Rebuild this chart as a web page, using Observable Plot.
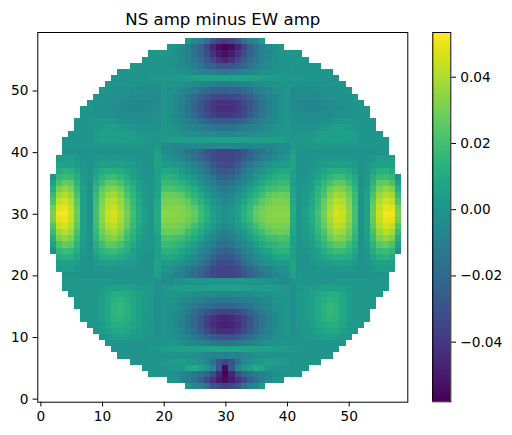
<!DOCTYPE html>
<html><head><meta charset="utf-8">
<script src="https://cdn.jsdelivr.net/npm/d3@7"></script>
<script src="https://cdn.jsdelivr.net/npm/@observablehq/plot@0.6"></script>
<style>
html,body{margin:0;padding:0;background:#fff}
#c{position:relative;width:512px;height:435px;overflow:hidden}
#c svg{position:absolute;left:0;top:0;background:transparent}
</style></head><body><div id="c"></div>
<script>
const title = "NS amp minus EW amp";
const axisTicks = [0,10,20,30,40,50];
const barTicks = [-0.04,-0.02,0,0.02,0.04];
const colorDomain = [-0.058,0.0535];
// Values in units of 0.001, one list per row from y=58 down to y=2.
// Each list runs from the circle's left edge to the centre column 30; the right half mirrors it.
const topRows = [
[2,-6,-10,-16,-28,-35,-38],
[1,-2,-5,-10,-16,-24,-35,-46,-54,-57],
[0,1,0,0,-3,-6,-9,-15,-22,-32,-42,-50,-54],
[0,0,0,0,-1,-3,-5,-8,-13,-19,-26,-34,-42,-46],
[0,0,0,0,0,-1,-2,-3,-5,-7,-11,-15,-21,-24,-28,-30],
[0,0,0,0,0,0,0,0,0,-1,-2,-3,-5,-7,-9,-11,-12,-13],
[0,0,0,0,0,0,1,1,1,2,2,3,4,5,6,7,7,7,7],
[0,0,0,0,-1,-1,-1,-1,-1,0,0,-1,-2,-3,-5,-7,-9,-10,-11,-12],
[0,-1,-1,-1,-2,-3,-3,-4,-4,-4,1,-2,-3,-6,-9,-12,-16,-20,-22,-24,-25],
[0,-1,-1,-2,-2,-3,-4,-5,-5,-5,-4,0,-3,-6,-9,-13,-19,-24,-29,-32,-34,-35],
[0,-1,-1,-2,-3,-4,-5,-6,-6,-6,-6,-4,0,-3,-6,-10,-15,-21,-28,-34,-39,-41,-42],
[0,0,-1,-2,-3,-4,-5,-6,-6,-6,-6,-5,-4,0,-3,-6,-10,-16,-22,-29,-35,-40,-43,-44],
[0,0,-1,-1,-2,-3,-4,-5,-5,-5,-5,-4,-3,0,-3,-6,-9,-14,-20,-26,-32,-37,-39,-40],
[0,0,0,1,1,1,0,-2,-3,-3,-3,-3,-3,-2,1,-2,-5,-7,-11,-14,-19,-22,-25,-27,-28],
[0,0,0,2,3,5,5,3,1,0,-1,-1,-1,-1,1,0,-2,-4,-6,-8,-10,-12,-14,-15,-16],
[0,0,0,0,3,5,5,5,5,4,3,1,0,0,0,2,1,0,-1,-2,-3,-4,-5,-5,-6,-7],
[0,0,0,0,0,3,4,5,5,5,4,4,3,2,1,0,3,4,4,4,4,4,4,5,5,5,5],
[0,0,0,0,0,1,1,1,1,1,1,1,0,0,-1,1,-4,-5,-6,-6,-6,-6,-6,-6,-6,-6,-6],
[0,-1,-1,-1,-1,-1,-1,-1,-1,-1,-1,-1,-1,-2,-2,6,-3,-5,-8,-11,-15,-19,-23,-29,-33,-35,-35],
[3,4,4,1,-1,-2,0,1,1,1,0,0,0,-1,-1,-2,7,0,-2,-5,-8,-12,-16,-21,-26,-33,-35,-35],
[5,6,6,3,0,-2,2,4,5,5,4,3,2,0,-1,-1,7,3,3,1,-2,-5,-8,-13,-19,-27,-32,-33],
[10,13,12,8,1,-2,5,10,12,12,10,7,4,1,-1,-1,5,9,9,7,3,-1,-5,-9,-14,-22,-27,-29],
[-1,16,18,17,11,2,-2,9,14,17,18,15,11,6,2,0,-1,5,13,13,11,8,4,0,-6,-10,-15,-21,-23],
[5,22,27,25,14,3,-2,12,19,25,26,21,15,10,4,1,0,5,17,17,15,13,9,4,-1,-6,-11,-15,-18],
[11,31,35,31,18,4,-2,15,26,31,33,28,19,13,6,2,0,6,21,22,20,18,14,10,4,-1,-6,-11,-13],
[17,37,41,36,21,5,-2,17,29,36,38,32,22,15,8,3,0,8,27,28,27,25,19,14,9,3,-2,-6,-9],
[22,43,46,40,25,5,-2,19,32,40,42,36,27,17,9,3,0,9,30,31,31,29,26,19,13,8,2,-3,-6],
[29,48,50,43,27,6,-2,20,34,43,45,38,29,19,10,4,0,10,33,33,33,32,29,25,17,11,4,0,-3],
[31,51,52,44,28,6,-2,20,35,44,47,40,30,20,11,5,0,10,34,34,34,33,31,27,19,13,6,2,-1]
];
const bottomRows = [
[29,48,50,43,27,6,-2,20,34,43,45,38,29,19,10,4,0,10,33,33,33,32,29,25,17,11,4,0,-3],
[22,43,46,40,25,5,-2,19,32,40,42,36,27,17,9,3,0,9,30,31,31,29,26,19,13,8,2,-3,-6],
[17,37,41,36,21,5,-2,17,29,36,38,32,22,15,8,3,0,8,27,28,27,25,19,14,9,3,-2,-6,-9],
[11,31,35,31,18,4,-2,15,26,31,33,28,19,13,6,2,0,6,21,22,20,18,14,10,4,-1,-6,-11,-13],
[5,22,27,25,14,3,-2,12,19,25,26,21,15,10,4,1,0,5,17,17,15,13,9,4,-1,-6,-11,-15,-18],
[-1,16,18,17,11,2,-2,9,14,17,18,15,11,6,2,0,-1,5,13,13,11,8,4,0,-6,-10,-15,-21,-23],
[10,13,12,8,1,-2,5,10,12,12,10,7,4,1,-1,-1,5,9,9,7,3,-1,-5,-9,-14,-22,-27,-29],
[5,6,6,3,0,-2,2,4,5,5,4,3,2,0,-1,-1,7,3,3,1,-2,-5,-8,-13,-19,-27,-32,-33],
[3,4,4,1,-1,-2,0,1,1,1,0,0,0,-1,-1,-2,7,0,-2,-5,-8,-12,-16,-21,-26,-33,-35,-35],
[0,0,0,-1,-1,-1,-1,-1,-1,-1,-1,-1,-1,-1,0,6,-3,-5,-8,-11,-15,-19,-23,-29,-33,-35,-35],
[1,1,1,1,1,1,1,1,1,0,0,0,0,0,0,-2,-5,-4,-2,-1,0,0,0,0,0,0,0],
[1,1,1,1,1,1,3,5,6,6,5,4,3,2,1,-3,1,3,3,4,4,4,4,4,5,5,5],
[1,1,1,1,1,4,8,11,11,10,8,5,3,2,-3,0,1,0,-1,-2,-3,-4,-5,-5,-6,-6],
[1,1,1,2,4,9,13,14,12,9,5,3,1,-3,0,0,-2,-4,-6,-8,-10,-12,-13,-14,-14],
[1,1,1,2,4,9,14,16,13,9,5,3,1,-3,0,-1,-3,-6,-8,-12,-15,-18,-20,-21,-21],
[1,1,2,4,9,14,16,13,9,5,3,1,-3,0,-2,-5,-8,-12,-18,-23,-28,-32,-36,-38],
[1,1,2,4,9,13,14,12,9,5,2,1,-3,0,-3,-6,-10,-15,-21,-28,-36,-41,-45,-46],
[1,1,3,8,11,12,10,8,4,2,0,-3,0,-3,-6,-10,-15,-21,-29,-37,-43,-47,-48],
[1,3,6,9,9,8,5,3,1,0,-3,0,-2,-5,-8,-13,-19,-26,-33,-39,-43,-44],
[1,3,4,5,4,3,2,1,0,-2,0,-1,-3,-6,-9,-13,-18,-22,-27,-30,-31],
[0,0,0,0,0,0,0,0,-1,0,0,-1,-2,-4,-6,-8,-11,-13,-15,-16],
[0,0,0,0,0,0,1,1,3,4,4,5,6,6,7,7,7,7,7],
[0,0,0,0,0,0,0,0,0,-1,-1,-2,-3,-5,-6,-8,-9,-10],
[0,0,0,0,0,2,3,4,4,3,0,-2,-7,-16,-28,-36],
[0,0,0,0,0,0,1,9,10,4,1,-7,-28,-55],
[0,0,0,-1,-3,-6,-10,-13,-16,-22,-32,-46,-57],
[0,-2,-6,-10,-16,-24,-33,-42,-50,-54],
[2,-6,-10,-17,-28,-34,-37]
];
const cells = [];
[...topRows, ...bottomRows].forEach((half, i) => {
  const y = 58 - i, start = 31 - half.length;
  half.forEach((v, k) => {
    const col = start + k;
    cells.push({x: col, y, v: v / 1000});
    if (col !== 30) cells.push({x: 60 - col, y, v: v / 1000});
  });
});
const font = {fontFamily: "'DejaVu Sans', sans-serif", fontSize: "13.7px", color: "#000", background: "transparent"};
const main = Plot.plot({
  width: 512, height: 435,
  marginLeft: 37.3, marginRight: 104.7, marginTop: 32, marginBottom: 33.3,
  style: font,
  x: {domain: [-0.5, 59.5], ticks: axisTicks, label: null, tickSize: 4.7, tickPadding: 4.7, tickFormat: d3.format("d")},
  y: {domain: [-0.5, 59.5], ticks: axisTicks, label: null, tickSize: 4.7, tickPadding: 4.7, tickFormat: d3.format("d")},
  color: {type: "linear", scheme: "viridis", domain: colorDomain},
  marks: [
    Plot.rect(cells, {x1: d => d.x - 0.5, x2: d => d.x + 0.5, y1: d => d.y - 0.5, y2: d => d.y + 0.5, fill: "v", shapeRendering: "crispEdges"}),
    Plot.frame({stroke: "#000", strokeWidth: 1}),
    Plot.text([title], {frameAnchor: "top", lineAnchor: "bottom", dy: -7.5, text: d => d, fontSize: 16.6, fill: "#000"})
  ]
});
const barSteps = d3.range(256).map(i => ({
  lo: colorDomain[0] + (colorDomain[1] - colorDomain[0]) * i / 256,
  hi: colorDomain[0] + (colorDomain[1] - colorDomain[0]) * (i + 1) / 256
}));
const bar = Plot.plot({
  width: 512, height: 435,
  marginLeft: 432.3, marginRight: 61.7, marginTop: 32, marginBottom: 33.7,
  style: font,
  x: {domain: [0, 1], axis: null},
  y: {domain: colorDomain, axis: "right", ticks: barTicks, label: null, tickSize: 4.7, tickPadding: 4.7, tickFormat: d3.format(".2f")},
  color: {type: "linear", scheme: "viridis", domain: colorDomain},
  marks: [
    Plot.rect(barSteps, {x1: 0, x2: 1, y1: "lo", y2: "hi", fill: d => (d.lo + d.hi) / 2, shapeRendering: "crispEdges"}),
    Plot.frame({stroke: "#000", strokeWidth: 1})
  ]
});
document.getElementById("c").append(main, bar);
</script></body></html>
